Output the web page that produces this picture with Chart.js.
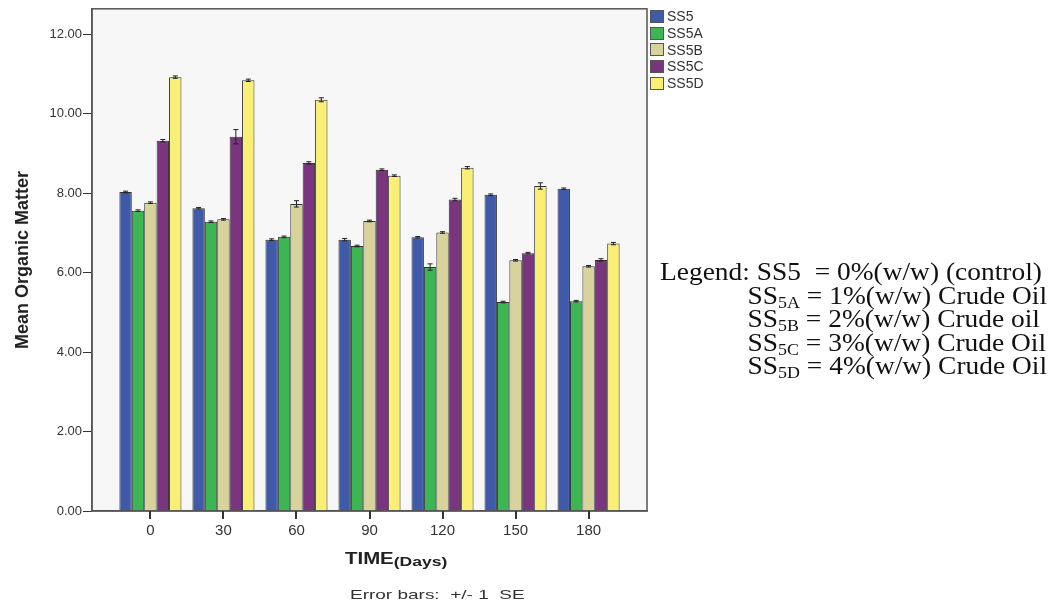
<!DOCTYPE html>
<html>
<head>
<meta charset="utf-8">
<script src="https://cdn.jsdelivr.net/npm/chart.js@4"></script>
<style>
  body { margin: 0; background: #fff; }
  #wrap { position: relative; width: 1059px; height: 606px; }
  #legendBox { position: absolute; left: 650px; top: 8px; font: 14px "Liberation Sans", Arial, sans-serif; color: #333; }
  #legendBox div { height: 16.7px; display: flex; align-items: center; }
  #legendBox span.sw { width: 12px; height: 11px; border: 1px solid #555; margin-right: 3px; display: inline-block; }
  #note { position: absolute; left: 660px; top: 260px; font: 26px "Liberation Serif", "Times New Roman", serif; color: #111; line-height: 23.5px; white-space: nowrap; transform: scaleX(1.055); transform-origin: left top; }
  #note sub { font-size: 17px; vertical-align: -4px; line-height: 0; }
  #note .ind { padding-left: 83px; }
</style>
</head>
<body>
<div id="wrap">
  <canvas id="grafico" width="1059" height="606"></canvas>
  <div id="legendBox"></div>
  <div id="note">
    <div>Legend: SS5&nbsp; = 0%(w/w) (control)</div>
    <div class="ind">SS<sub>5A</sub> = 1%(w/w) Crude Oil</div>
    <div class="ind">SS<sub>5B</sub> = 2%(w/w) Crude oil</div>
    <div class="ind">SS<sub>5C</sub> = 3%(w/w) Crude Oil</div>
    <div class="ind">SS<sub>5D</sub> = 4%(w/w) Crude Oil</div>
  </div>
</div>
<script>
let dias = [0, 30, 60, 90, 120, 150, 180]
let series = ['SS5', 'SS5A', 'SS5B', 'SS5C', 'SS5D']
let cores = ['#3e5aa8', '#3cb553', '#d7d39b', '#7b347e', '#f8ef74']

let ss5  = [8.03, 7.62, 6.83, 6.83, 6.89, 7.96, 8.11]
let ss5a = [7.56, 7.28, 6.90, 6.67, 6.14, 5.26, 5.28]
let ss5b = [7.76, 7.34, 7.73, 7.30, 7.01, 6.31, 6.16]
let ss5c = [9.32, 9.42, 8.76, 8.59, 7.84, 6.49, 6.32]
let ss5d = [10.92, 10.84, 10.35, 8.44, 8.64, 8.18, 6.73]

let erro5  = [0.02, 0.02, 0.02, 0.03, 0.02, 0.02, 0.02]
let erro5a = [0.02, 0.02, 0.02, 0.02, 0.08, 0.02, 0.02]
let erro5b = [0.02, 0.02, 0.08, 0.02, 0.02, 0.02, 0.02]
let erro5c = [0.03, 0.18, 0.03, 0.02, 0.03, 0.02, 0.03]
let erro5d = [0.03, 0.03, 0.05, 0.02, 0.03, 0.08, 0.03]

let yTicks = [0, 2, 4, 6, 8, 10, 12]

let valores = [ss5, ss5a, ss5b, ss5c, ss5d]
let erros = [erro5, erro5a, erro5b, erro5c, erro5d]

// legenda pequena (canto superior)
let legenda = document.getElementById('legendBox')
series.forEach((nome, i) => {
    let linha = document.createElement('div')
    linha.innerHTML = `<span class="sw" style="background:${cores[i]}"></span>${nome}`
    legenda.appendChild(linha)
})

// texto esticado na horizontal, como no original
function textoLargo(c, txt, x, y, fonte, escala) {
    c.save()
    c.font = fonte
    c.translate(x, y)
    c.scale(escala, 1)
    c.fillText(txt, 0, 0)
    let w = c.measureText(txt).width * escala
    c.restore()
    return w
}

let fundoPlot = {
    id: 'fundoPlot',
    beforeDraw(chart) {
        let a = chart.chartArea, c = chart.ctx
        c.save()
        c.fillStyle = '#f7f7f7'
        c.fillRect(a.left, a.top, a.right - a.left, a.bottom - a.top)
        c.restore()
    },
    afterDraw(chart) {
        let a = chart.chartArea, c = chart.ctx, escalaX = chart.scales.x
        c.save()
        c.strokeStyle = '#555'
        c.lineWidth = 1.5
        c.strokeRect(a.left, a.top, a.right - a.left, a.bottom - a.top)
        // marcas do eixo x
        c.fillStyle = '#333'
        for (let d of dias) {
            let px = Math.round(escalaX.getPixelForValue(d))
            c.fillRect(px - 1, a.bottom, 2, 8)
        }
        c.fillStyle = '#222'
        c.textBaseline = 'alphabetic'
        let w = textoLargo(c, 'TIME', 345, 564, 'bold 17px "Liberation Sans", Arial, sans-serif', 1.2)
        textoLargo(c, '(Days)', 345 + w, 566, 'bold 13px "Liberation Sans", Arial, sans-serif', 1.35)
        c.fillStyle = '#333'
        textoLargo(c, 'Error bars:  +/- 1  SE', 350, 599, '13px "Liberation Sans", Arial, sans-serif', 1.46)
        c.restore()
    }
}

let barrasErro = {
    id: 'barrasErro',
    afterDatasetsDraw(chart) {
        let c = chart.ctx, y = chart.scales.y
        c.save()
        c.strokeStyle = '#222'
        c.lineWidth = 1
        chart.data.datasets.forEach((ds, i) => {
            chart.getDatasetMeta(i).data.forEach((bar, j) => {
                let v = valores[i][j], e = erros[i][j]
                let yt = y.getPixelForValue(v + e), yb = y.getPixelForValue(v - e)
                c.beginPath()
                c.moveTo(bar.x, yt); c.lineTo(bar.x, yb)
                c.moveTo(bar.x - 2.5, yt); c.lineTo(bar.x + 2.5, yt)
                c.moveTo(bar.x - 2.5, yb); c.lineTo(bar.x + 2.5, yb)
                c.stroke()
            })
        })
        c.restore()
    }
}

let ctx = document.getElementById('grafico')
new Chart(ctx, {
    type: 'bar',
    data: {
        datasets: series.map((nome, i) => ({
            label: nome,
            data: dias.map((d, j) => ({ x: d, y: valores[i][j] })),
            backgroundColor: cores[i],
            borderColor: '#333',
            borderWidth: 1,
            categoryPercentage: 0.85,
            barPercentage: 1
        }))
    },
    options: {
        responsive: false,
        animation: false,
        layout: { padding: { top: 6, right: 412, left: 0, bottom: 0 } },
        plugins: { legend: { display: false }, tooltip: { enabled: false } },
        scales: {
            x: {
                type: 'linear',
                offset: false,
                min: -24,
                max: 204,
                afterFit: s => { s.height = 95 },
                afterBuildTicks: s => { s.ticks = dias.map(d => ({ value: d })) },
                grid: { offset: false, drawOnChartArea: false, drawTicks: false },
                border: { color: '#555', width: 1.5 },
                ticks: { color: '#333', font: { family: '"Liberation Sans", Arial', size: 15 }, padding: 11 }
            },
            y: {
                min: 0,
                max: 12.64,
                afterFit: s => { s.width = 92 },
                afterBuildTicks: s => { s.ticks = yTicks.map(v => ({ value: v })) },
                grid: { drawOnChartArea: false, tickLength: 9, color: '#333' },
                border: { color: '#555', width: 1.5 },
                ticks: {
                    color: '#333',
                    font: { family: '"Liberation Sans", Arial', size: 13 },
                    padding: 1,
                    callback: value => value.toFixed(2)
                },
                title: {
                    display: true,
                    text: 'Mean Organic Matter',
                    color: '#222',
                    font: { family: '"Liberation Sans", Arial', size: 18, weight: 'bold' },
                    padding: { top: 12, bottom: 0 }
                }
            }
        }
    },
    plugins: [fundoPlot, barrasErro]
})
</script>
</body>
</html>
